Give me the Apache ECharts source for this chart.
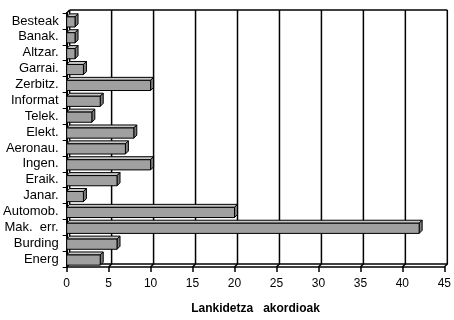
<!DOCTYPE html>
<html><head><meta charset="utf-8">
<script src="https://cdn.jsdelivr.net/npm/echarts@6/dist/echarts.min.js"></script>
<style>html,body{margin:0;padding:0;background:#fff}#c{width:454px;height:320px}</style>
</head><body><div id="c"></div>
<script>
// Cooperation agreements per sector
const categories = ['Besteak','Banak.','Altzar.','Garrai.','Zerbitz.','Informat','Telek.','Elekt.','Aeronau.','Ingen.','Eraik.','Janar.','Automob.','Mak.  err.','Burding','Energ'];
const values = [1, 1, 1, 2, 10, 4, 3, 8, 7, 10, 6, 2, 20, 42, 6, 4];
const tickValues = [0, 5, 10, 15, 20, 25, 30, 35, 40, 45];
const axisTitle = 'Lankidetza   akordioak';

const DEPTH = 3; // pseudo-3D offset (px)
const FONT = 'Liberation Sans, Arial, sans-serif';

// back wall: gridlines pushed back by DEPTH and joined to the floor front edge
function renderWall(params, api) {
  const cs = params.coordSys;
  const d = DEPTH;
  const x = api.coord([api.value(0), 0])[0];
  const top = cs.y, bottom = cs.y + cs.height;
  const ln = { stroke: '#000', lineWidth: 1.5 };
  const children = [
    { type: 'polyline', shape: { points: [[x + d, top - d], [x + d, bottom - d], [x, bottom]] }, style: Object.assign({ fill: null }, ln) }
  ];
  if (params.dataIndex === 0) {
    const xr = cs.x + cs.width;
    children.push({ type: 'line', shape: { x1: cs.x + d, y1: top - d, x2: xr + d, y2: top - d }, style: ln });
    children.push({ type: 'line', shape: { x1: cs.x + d, y1: bottom - d, x2: xr + d, y2: bottom - d }, style: ln });
    children.push({ type: 'line', shape: { x1: cs.x, y1: top, x2: cs.x + d, y2: top - d }, style: ln });
  }
  return { type: 'group', children: children };
}

function renderBar(params, api) {
  const v = api.value(0), c = api.value(1);
  const p0 = api.coord([0, c]), p1 = api.coord([v, c]);
  const h = api.size([0, 1])[1] * 0.64;
  const d = DEPTH;
  const x0 = p0[0], x1 = p1[0], yt = p0[1] - h / 2 + 1, yb = p0[1] + h / 2 + 1;
  const st = { stroke: '#000', lineWidth: 1 };
  return { type: 'group', children: [
    { type: 'polygon', shape: { points: [[x0, yt], [x0 + d, yt - d], [x1 + d, yt - d], [x1, yt]] }, style: Object.assign({ fill: '#c6c6c6' }, st) },
    { type: 'polygon', shape: { points: [[x1, yt], [x1 + d, yt - d], [x1 + d, yb - d], [x1, yb]] }, style: Object.assign({ fill: '#7c7c7c' }, st) },
    { type: 'rect', shape: { x: x0, y: yt, width: x1 - x0, height: h }, style: Object.assign({ fill: '#a0a0a0' }, st) }
  ] };
}

const chart = echarts.init(document.getElementById('c'), null, { renderer: 'canvas' });
chart.setOption({
  animation: false,
  backgroundColor: '#fff',
  grid: { left: 66, right: 8, top: 13, bottom: 52 },
  xAxis: {
    type: 'value', min: 0, max: 45, interval: 5,
    axisLine: { show: true, lineStyle: { color: '#000', width: 1.5 } },
    axisTick: { show: true, length: 5, lineStyle: { color: '#000', width: 1.5 } },
    splitLine: { show: false },
    axisLabel: { color: '#000', fontSize: 12, fontFamily: FONT, margin: 11 },
    name: axisTitle, nameLocation: 'middle', nameGap: 36,
    nameTextStyle: { color: '#000', fontSize: 12, fontWeight: 'bold', fontFamily: FONT }
  },
  yAxis: {
    type: 'category', data: categories, inverse: true,
    axisLine: { show: true, lineStyle: { color: '#000', width: 2 } },
    axisTick: { show: true, length: 4, interval: 0, lineStyle: { color: '#000', width: 1 } },
    axisLabel: { color: '#000', fontSize: 13, fontFamily: FONT, margin: 8, interval: 0 }
  },
  series: [
    { type: 'custom', renderItem: renderWall, data: tickValues.map(v => [v]), encode: { x: 0 }, z: 1, silent: true, clip: false },
    { type: 'custom', renderItem: renderBar, data: values.map((v, i) => [v, i]), encode: { x: 0, y: 1 }, z: 3, clip: false }
  ]
});
</script></body></html>
